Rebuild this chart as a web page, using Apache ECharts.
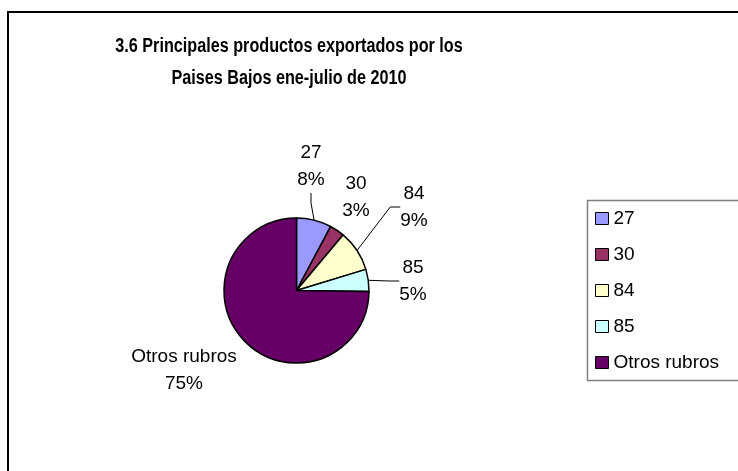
<!DOCTYPE html>
<html>
<head>
<meta charset="utf-8">
<script src="https://cdn.jsdelivr.net/npm/echarts@6/dist/echarts.min.js"></script>
<style>
  html, body { margin: 0; padding: 0; background: #fff; }
  #chart { width: 738px; height: 471px; }
</style>
</head>
<body>
<div id="chart"></div>
<script>
// productos exportados (participación, %)
const categories = ['27', '30', '84', '85', 'Otros rubros']
const values = [7.8, 3.3, 9.2, 4.9, 74.8]
const colors = ['#9999FF', '#993366', '#FFFFCC', '#CCFFFF', '#660066']

const titleText = '3.6 Principales productos exportados por los\nPaises Bajos ene-julio de 2010'

const font = "'Liberation Sans', Arial, sans-serif"

// label centers, same order as categories
const labelPos = [[311, 166], [356, 197], [414, 207], [413, 281], [184, 370]]

const option = {
  animation: false,
  color: colors,
  legend: {
    orient: 'vertical',
    left: 595,
    top: 209,
    padding: 0,
    itemWidth: 13,
    itemHeight: 12,
    itemGap: 17,
    itemTextGap: 6,
    icon: 'rect',
    textStyle: { fontFamily: font, fontSize: 19, color: '#000' },
    itemStyle: { borderColor: '#000', borderWidth: 1 },
    data: categories
  },
  graphic: [
    {
      type: 'rect',
      shape: { x: 8, y: 12, width: 800, height: 500 },
      style: { fill: 'none', stroke: '#000', lineWidth: 2 }
    },
    {
      type: 'rect',
      shape: { x: 587.5, y: 200.5, width: 200, height: 180 },
      style: { fill: 'none', stroke: '#808080', lineWidth: 1.5 }
    },
    {
      // title, narrow bold like the original
      type: 'text',
      x: 289,
      y: 62,
      scaleX: 0.81,
      style: {
        text: titleText,
        font: "bold 20px 'Liberation Sans', Arial, sans-serif",
        lineHeight: 32,
        fill: '#000',
        textAlign: 'center',
        textVerticalAlign: 'middle'
      }
    }
  ],
  series: [
    {
      type: 'pie',
      center: [296.5, 290.5],
      radius: 72.5,
      startAngle: 90,
      clockwise: true,
      itemStyle: { borderColor: '#000', borderWidth: 1.5 },
      label: {
        show: true,
        position: 'outside',
        fontFamily: font,
        fontSize: 19,
        lineHeight: 27,
        color: '#000',
        formatter: (p) => p.name + '\n' + Math.round(p.percent) + '%'
      },
      labelLine: {
        show: true,
        length: 10,
        length2: 10,
        lineStyle: { color: '#000', width: 1 }
      },
      labelLayout: (params) => {
        const pos = labelPos[params.dataIndex]
        return { x: pos[0], y: pos[1], align: 'center', verticalAlign: 'middle' }
      },
      emphasis: { disabled: true },
      data: categories.map((name, i) => ({
        name: name,
        value: values[i],
        labelLine: { show: name !== '30' && name !== 'Otros rubros' }
      }))
    }
  ]
}

const mychart = echarts.init(document.getElementById('chart'))
mychart.setOption(option)
</script>
</body>
</html>
